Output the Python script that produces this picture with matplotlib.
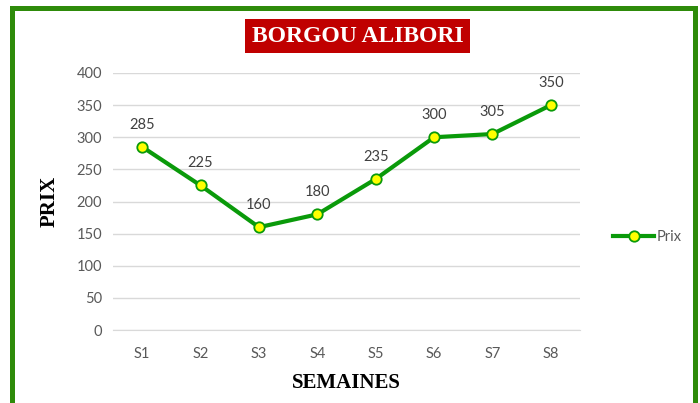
import matplotlib
matplotlib.use("Agg")
import matplotlib.pyplot as plt
from matplotlib.patches import Rectangle
from matplotlib.lines import Line2D

categories = ["S1", "S2", "S3", "S4", "S5", "S6", "S7", "S8"]
prix = [285, 225, 160, 180, 235, 300, 305, 350]
yticks = [0, 50, 100, 150, 200, 250, 300, 350, 400]

W, H = 700, 403
fig = plt.figure(figsize=(W / 100, H / 100), dpi=100)
fig.patch.set_facecolor("white")

# green frame
green_frame = "#2E8B0A"
fig.patches.append(Rectangle((12 / W, -0.2), (694.5 - 12) / W, 1.2 - 7.5 / H,
                             transform=fig.transFigure, fill=False,
                             edgecolor=green_frame, linewidth=3.6, zorder=10))

ax = fig.add_axes([113 / W, 1 - 330 / H, (580 - 113) / W, (330 - 73) / H])
x = list(range(len(categories)))
line_color = "#0A9A0A"
ax.plot(x, prix, color=line_color, linewidth=3, marker="o", markersize=7.5,
        markerfacecolor="#FFFF00", markeredgecolor=line_color, markeredgewidth=1.3,
        zorder=3, label="Prix")
for xi, v in zip(x, prix):
    ax.annotate(str(v), (xi, v), xytext=(0, 11), textcoords="offset points",
                ha="center", va="bottom", fontsize=10.5, color="#404040",
                family="Lato")

ax.set_xlim(-0.5, len(categories) - 0.5)
ax.set_ylim(0, 400)
ax.set_yticks(yticks)
ax.set_xticks(x)
ax.set_xticklabels(categories)
ax.grid(axis="y", color="#D9D9D9", linewidth=1)
ax.set_axisbelow(True)
for s in ["top", "right", "left"]:
    ax.spines[s].set_visible(False)
ax.spines["bottom"].set_color("#D9D9D9")
ax.tick_params(axis="both", length=0, labelsize=10.5, labelcolor="#595959", pad=8)
for lab in ax.get_xticklabels() + ax.get_yticklabels():
    lab.set_family("Lato")
ax.tick_params(axis="x", pad=12)

ax.set_xlabel("SEMAINES", family="Liberation Serif", fontweight="bold",
              fontsize=15, color="black", labelpad=9)
ax.set_ylabel("PRIX", family="Liberation Serif", fontweight="bold",
              fontsize=15, color="black", labelpad=12)

# title box
fig.text(357.5 / W, 1 - 36 / H, "BORGOU ALIBORI", ha="center", va="center",
         family="Liberation Serif", fontweight="bold", fontsize=17, color="white",
         bbox=dict(boxstyle="square,pad=0.28", facecolor="#C00000", edgecolor="none"))

# legend
handle = Line2D([], [], color=line_color, linewidth=3, marker="o", markersize=7.5,
                markerfacecolor="#FFFF00", markeredgecolor=line_color, markeredgewidth=1.3)
fig.legend([handle], ["Prix"], loc="center left", bbox_to_anchor=(600 / W, 1 - 237 / H),
           frameon=False, prop={"family": "Lato", "size": 10.5}, labelcolor="#595959",
           handlelength=2.8, handletextpad=0.2)

fig.savefig("out.png", dpi=100)
